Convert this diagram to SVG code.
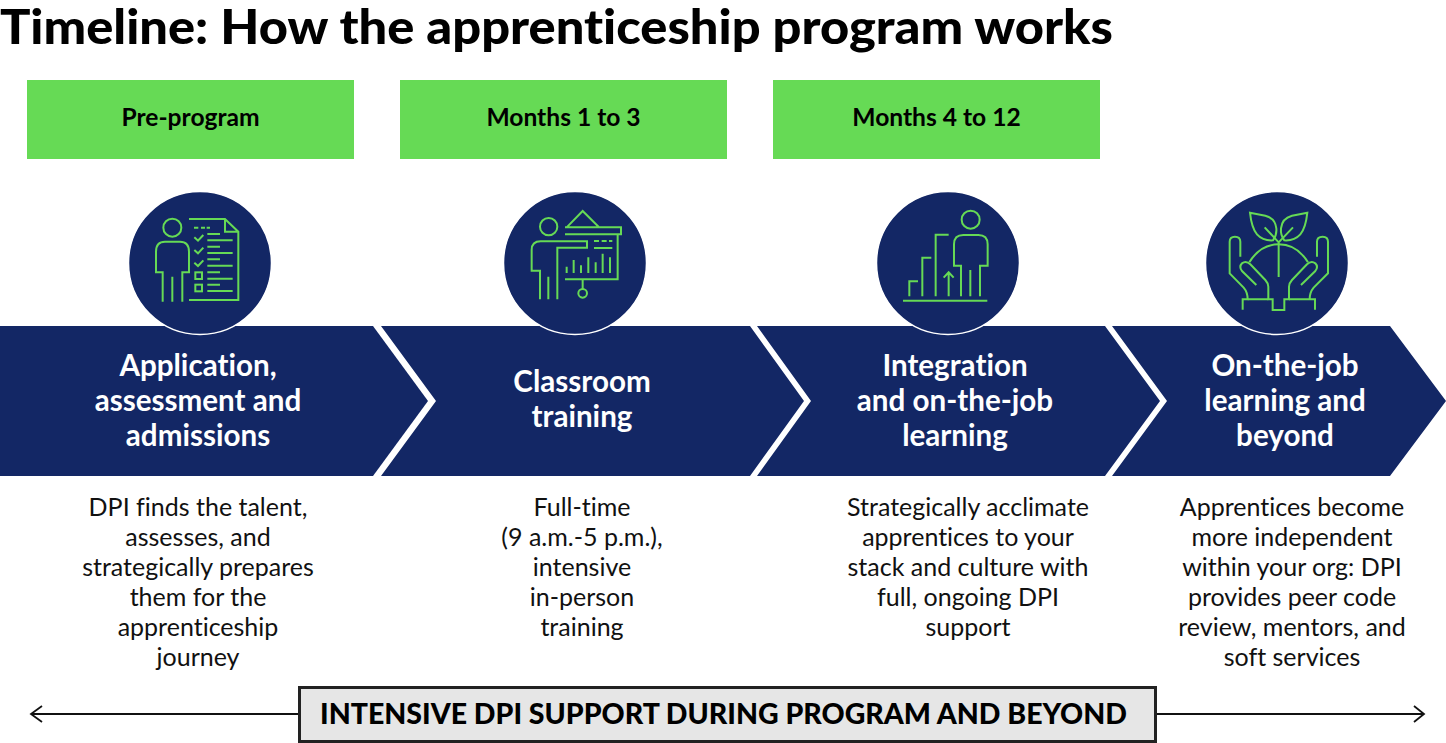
<svg xmlns="http://www.w3.org/2000/svg" width="1446" height="743" viewBox="0 0 1446 743">
<style>
text{font-family:"Lato","Liberation Sans",sans-serif;text-anchor:middle;font-variant-ligatures:none}
.title{font-size:47px;font-weight:900;fill:#000;text-anchor:start}
.tag{fill:#66da55}
.tagt{font-size:24.6px;font-weight:700;fill:#000;transform:translateY(.5px)}
.band{fill:#132765}
.disc{fill:#132765;stroke:#fff;stroke-width:1.5}
.head{font-size:29.6px;font-weight:700;fill:#fff;transform:translateY(.7px)}
.body{font-size:25px;font-weight:400;fill:#111;transform:translateY(.7px)}
.ico{fill:none;stroke:#66da55;stroke-width:6}
.line{fill:none;stroke:#111;stroke-width:1.8}
.sup{fill:#e6e6e6;stroke:#222;stroke-width:3}
.supt{font-size:28.5px;font-weight:900;fill:#000;transform:translateY(.7px)}
</style>
<text class="title" x="0" y="44" textLength="1113" lengthAdjust="spacingAndGlyphs">Timeline: How the apprenticeship program works</text>

<g id="tag-pre"><rect class="tag" x="27" y="80" width="327" height="79"/><text class="tagt" x="190.500" y="125">Pre-program</text></g>
<g id="tag-m1"><rect class="tag" x="400" y="80" width="327" height="79"/><text class="tagt" x="563.500" y="125">Months 1 to 3</text></g>
<g id="tag-m4"><rect class="tag" x="773" y="80" width="327" height="79"/><text class="tagt" x="936.500" y="125">Months 4 to 12</text></g>

<g id="connectors">
<path class="line" d="M299 714H31M42 706L31 714L42 722"/>
<path class="line" d="M1155 714H1424M1414 706L1424 714L1414 722"/>
</g>

<g id="step-1">
<polygon class="band" points="0,326 373,326 428,401 373,476 0,476"/>
<circle class="disc" cx="200" cy="263" r="71.500"/>
<g class="ico" transform="translate(120 185) scale(.3333)">
<circle cx="157" cy="128" r="27"/>
<path d="M128 350V262H108V200Q108 170 135 170H180Q207 170 207 200V262H187V350M157 275V350"/>
<path d="M207 102H315L355 140V345H207M315 102V140H355"/>
<path d="M222 128H235M243 128H255M260 128H270"/>
<path d="M223 157L234 167L250 150M223 195L234 205L250 188M223 233L234 243L250 226"/>
<rect x="226" y="262" width="20" height="20"/><rect x="226" y="299" width="20" height="20"/>
<path d="M262 147H300M262 166H338M262 185H300M262 204H338M262 223H300M262 242H338M262 262H300M262 281H338M262 299H300M262 318H338"/>
</g>
<text class="head" x="198" y="375">Application,</text><text class="head" x="198" y="410">assessment and</text><text class="head" x="198" y="445">admissions</text>
<text class="body" x="198" y="515">DPI finds the talent,</text><text class="body" x="198" y="545">assesses, and</text><text class="body" x="198" y="575">strategically prepares</text><text class="body" x="198" y="605">them for the</text><text class="body" x="198" y="635">apprenticeship</text><text class="body" x="198" y="665">journey</text>
</g>

<g id="step-2">
<polygon class="band" points="381,326 750,326 804,401 750,476 381,476 436,401"/>
<circle class="disc" cx="575" cy="263" r="71.500"/>
<g class="ico" transform="translate(495 185) scale(.3333)">
<circle cx="161" cy="125" r="26"/>
<path d="M135 343V257H110V195Q110 169 137 169H276V188H187V343M160 275V343"/>
<path d="M215 127L263 78L312 127H378V148H210M210 127H312"/>
<path d="M368 148V283H210M263 283V312"/><circle cx="263" cy="325" r="13"/>
<path d="M297 168H312M320 168H335M342 168H352M297 189H352"/>
<path d="M215 245V264M236 225V264M258 241V264M280 217V264M302 232V264M323 206V264M345 217V264"/>
</g>
<text class="head" x="582" y="391">Classroom</text><text class="head" x="582" y="426">training</text>
<text class="body" x="582" y="515">Full-time</text><text class="body" x="582" y="545">(9 a.m.-5 p.m.),</text><text class="body" x="582" y="575">intensive</text><text class="body" x="582" y="605">in-person</text><text class="body" x="582" y="635">training</text>
</g>

<g id="step-3">
<polygon class="band" points="757,326 1105,326 1160,401 1105,476 757,476 811,401"/>
<circle class="disc" cx="948" cy="263" r="71.500"/>
<g class="ico" transform="translate(868 185) scale(.3333)">
<circle cx="308" cy="104" r="27"/>
<path d="M279 334V242H258V178Q258 150 286 150H331Q359 150 359 178V242H336V334M307 255V334"/>
<path d="M105 347H358"/>
<path d="M124 334V289H150M163 334V218H190M203 334V149H242"/>
<path d="M242 334V262M227 278L242 262L257 278"/>
</g>
<text class="head" x="955" y="375">Integration</text><text class="head" x="955" y="410">and on-the-job</text><text class="head" x="955" y="445">learning</text>
<text class="body" x="968" y="515">Strategically acclimate</text><text class="body" x="968" y="545">apprentices to your</text><text class="body" x="968" y="575">stack and culture with</text><text class="body" x="968" y="605">full, ongoing DPI</text><text class="body" x="968" y="635">support</text>
</g>

<g id="step-4">
<polygon class="band" points="1112,326 1390,326 1446,401 1390,476 1112,476 1167,401"/>
<circle class="disc" cx="1277" cy="263" r="71.500"/>
<g class="ico" transform="translate(1197 185) scale(.3333)">
<path d="M159 83L205 92Q235 100 238 130Q240 150 228 166Q198 168 180 148Q164 130 159 83Z"/>
<path d="M331 83L285 92Q255 100 252 130Q250 150 262 166Q292 168 310 148Q326 130 331 83Z"/>
<path d="M203 127L245 172L288 127M245 172V276"/>
<path d="M157 232Q190 178 245 178Q300 178 333 232"/>
<path d="M130 215V170Q130 155 114 155Q98 155 98 170V265L140 308Q152 322 152 343H137V374M178 300L135 258Q125 245 135 235Q147 226 160 238L205 285Q214 295 214 305V343H227V375H262V343H276V305Q276 295 285 285L330 238Q343 226 355 235Q365 245 355 258L312 300"/>
<path d="M360 215V170Q360 155 377 155Q393 155 393 170V265L350 308Q338 322 338 343H354V374M152 343H214M276 343H338"/>
</g>
<text class="head" x="1285" y="375">On-the-job</text><text class="head" x="1285" y="410">learning and</text><text class="head" x="1285" y="445">beyond</text>
<text class="body" x="1292" y="515">Apprentices become</text><text class="body" x="1292" y="545">more independent</text><text class="body" x="1292" y="575">within your org: DPI</text><text class="body" x="1292" y="605">provides peer code</text><text class="body" x="1292" y="635">review, mentors, and</text><text class="body" x="1292" y="665">soft services</text>
</g>

<g id="support"><rect class="sup" x="299.500" y="687.500" width="856" height="54"/><text class="supt" x="723.500" y="723" textLength="807" lengthAdjust="spacingAndGlyphs">INTENSIVE DPI SUPPORT DURING PROGRAM AND BEYOND</text></g>
</svg>
